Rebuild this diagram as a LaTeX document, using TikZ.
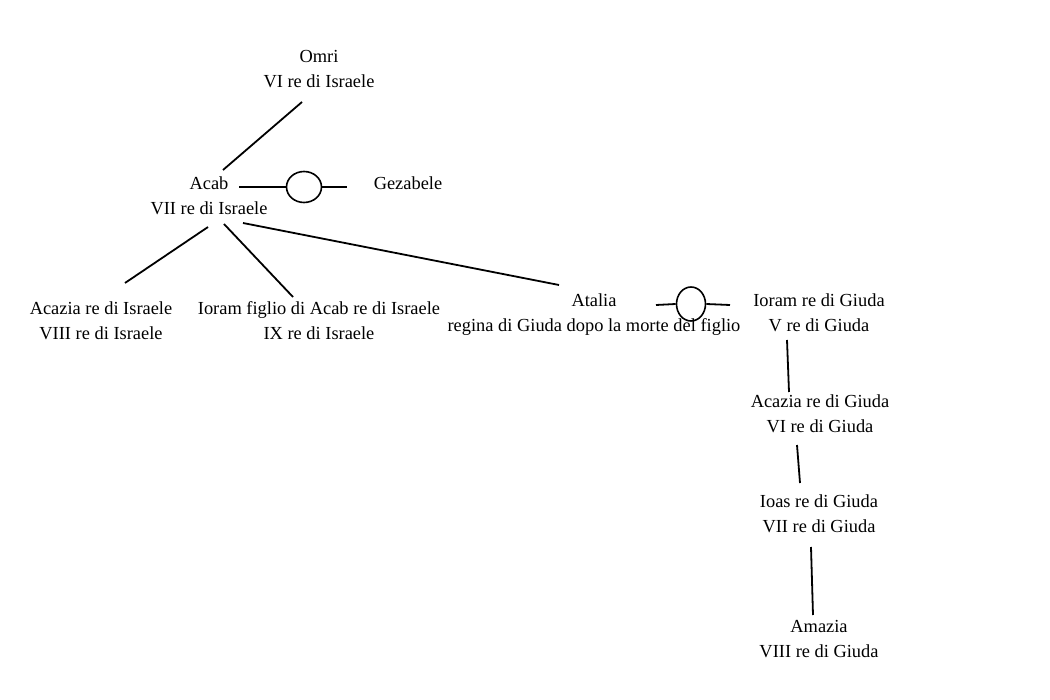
\documentclass[tikz,border=0pt]{standalone}
\usepackage{fontspec}
\setmainfont{Liberation Serif}
\usetikzlibrary{shapes.geometric}
\begin{document}
\begin{tikzpicture}[x=1pt,y=-1pt,
  person/.style={align=center,font=\fontsize{18.4}{25}\selectfont,inner sep=0pt,text height=12pt,text depth=4pt},
  ring/.style={ellipse,draw,line width=1.6pt,inner sep=0pt},
  link/.style={line width=1.8pt}]
\fill[white] (0,0) rectangle (1050,700);
\useasboundingbox (0,0) rectangle (1050,700);
% people
\node[person] (omri) at (319,83.5) {Omri\\VI re di Israele};
\node[person] (acab) at (209,210.5) {Acab\\VII re di Israele};
\node[person] (gezabele) at (408,186) {Gezabele};
\node[person] (acazia) at (101,335.5) {Acazia re di Israele\\VIII re di Israele};
\node[person] (ioram) at (319,335.5) {Ioram figlio di Acab re di Israele\\IX re di Israele};
\node[person] (atalia) at (594,328) {Atalia\\regina di Giuda dopo la morte del figlio};
\node[person] (ioramg) at (819,328) {Ioram re di Giuda\\V re di Giuda};
\node[person] (acaziag) at (820,428.5) {Acazia re di Giuda\\VI re di Giuda};
\node[person] (ioas) at (819,528.5) {Ioas re di Giuda\\VII re di Giuda};
\node[person] (amazia) at (819,653.5) {Amazia\\VIII re di Giuda};
% marriages
\node[ring,minimum width=35pt,minimum height=31pt] (m1) at (304,187) {};
\node[ring,minimum width=29pt,minimum height=34pt] (m2) at (691,304) {};
\draw[link] ([shift={(30,-23.5)}]acab.center) -- (m1.west);
\draw[link] (m1.east) -- ([shift={(-61,1)}]gezabele.center);
\draw[link] ([shift={(62,-23)}]atalia.center) -- (m2.west);
\draw[link] (m2.east) -- ([shift={(-89,-23)}]ioramg.center);
% descent
\draw[link] ([shift={(-17,18.5)}]omri.center) -- ([shift={(14,-40.5)}]acab.center);
\draw[link] ([shift={(-1,16.5)}]acab.center) -- ([shift={(24,-52.5)}]acazia.center);
\draw[link] ([shift={(15,13.5)}]acab.center) -- ([shift={(-26,-38.5)}]ioram.center);
\draw[link] ([shift={(34,12.5)}]acab.center) -- ([shift={(-35,-43)}]atalia.center);
\draw[link] ([shift={(-32,12)}]ioramg.center) -- ([shift={(-31,-36.5)}]acaziag.center);
\draw[link] ([shift={(-23,16.5)}]acaziag.center) -- ([shift={(-19,-45.5)}]ioas.center);
\draw[link] ([shift={(-8,18.5)}]ioas.center) -- ([shift={(-6,-38.5)}]amazia.center);
\end{tikzpicture}
\end{document}
